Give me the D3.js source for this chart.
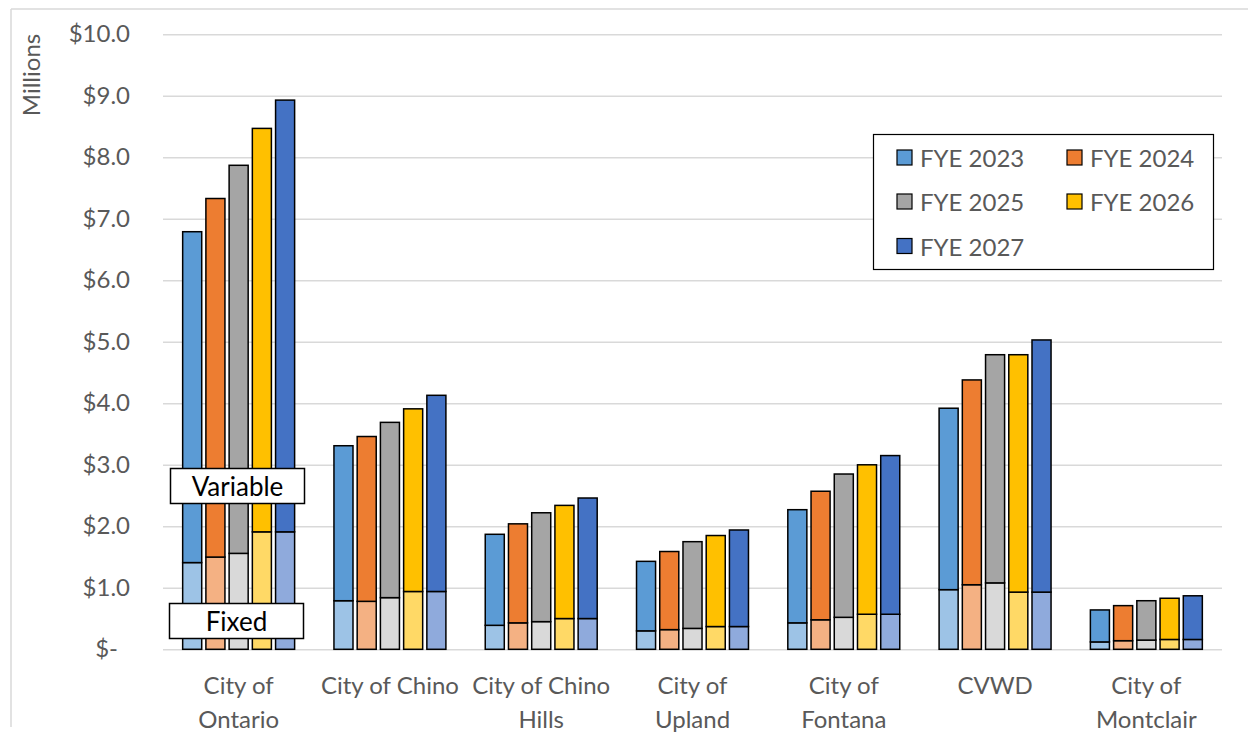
<!DOCTYPE html>
<html>
<head>
<meta charset="utf-8">
<script src="https://cdn.jsdelivr.net/npm/d3@7"></script>
<style>
  html, body { margin: 0; padding: 0; background: #fff; }
  svg { display: block; }
  text { font-family: Lato, "Open Sans", sans-serif; }
</style>
</head>
<body>
<svg id="chart" width="1248" height="736"></svg>
<script>
// ---- data ----
const categories = ["City of Ontario", "City of Chino", "City of Chino Hills", "City of Upland", "City of Fontana", "CVWD", "City of Montclair"];
const categoryLines = [["City of", "Ontario"], ["City of Chino"], ["City of Chino", "Hills"], ["City of", "Upland"], ["City of", "Fontana"], ["CVWD"], ["City of", "Montclair"]];
const years = ["FYE 2023", "FYE 2024", "FYE 2025", "FYE 2026", "FYE 2027"];

// Fixed portion ($ millions)
const fixed2023 = [1.41, 0.79, 0.39, 0.30, 0.43, 0.97, 0.12];
const fixed2024 = [1.50, 0.78, 0.43, 0.32, 0.48, 1.05, 0.14];
const fixed2025 = [1.56, 0.84, 0.45, 0.34, 0.52, 1.08, 0.15];
const fixed2026 = [1.91, 0.94, 0.50, 0.37, 0.57, 0.93, 0.16];
const fixed2027 = [1.91, 0.94, 0.50, 0.37, 0.57, 0.93, 0.16];

// Variable portion ($ millions)
const variable2023 = [5.38, 2.52, 1.48, 1.13, 1.84, 2.95, 0.52];
const variable2024 = [5.83, 2.68, 1.61, 1.27, 2.09, 3.33, 0.57];
const variable2025 = [6.31, 2.85, 1.77, 1.41, 2.33, 3.71, 0.64];
const variable2026 = [6.56, 2.97, 1.84, 1.48, 2.43, 3.86, 0.67];
const variable2027 = [7.02, 3.19, 1.96, 1.57, 2.58, 4.10, 0.71];

const yTicks = [0, 1, 2, 3, 4, 5, 6, 7, 8, 9, 10];
const yTickLabels = ["$-", "$1.0", "$2.0", "$3.0", "$4.0", "$5.0", "$6.0", "$7.0", "$8.0", "$9.0", "$10.0"];

const variableColors = ["#5B9BD5", "#ED7D31", "#A5A5A5", "#FFC000", "#4472C4"];
const fixedColors = ["#9DC3E6", "#F4B183", "#D9D9D9", "#FFD966", "#8FAADC"];

const fixedSeries = [fixed2023, fixed2024, fixed2025, fixed2026, fixed2027];
const variableSeries = [variable2023, variable2024, variable2025, variable2026, variable2027];

// ---- layout ----
const svg = d3.select("#chart");
const plotLeft = 163, plotRight = 1222, plotTop = 34.3, plotBottom = 649.3;
const textColor = "#595959";
const fontSize = 24;

// chart frame (partially visible)
svg.append("line").attr("x1", 11).attr("y1", 9).attr("x2", 1248).attr("y2", 9)
  .attr("stroke", "#d9d9d9").attr("stroke-width", 1.5);
svg.append("line").attr("x1", 11).attr("y1", 9).attr("x2", 11).attr("y2", 727)
  .attr("stroke", "#d9d9d9").attr("stroke-width", 1.5);

const y = d3.scaleLinear().domain([0, 10]).range([plotBottom, plotTop]);
const x0 = d3.scaleBand().domain(categories).range([plotLeft, plotRight])
  .paddingInner(0.26).paddingOuter(0.13);
const x1 = d3.scaleBand().domain(years).range([0, x0.bandwidth()])
  .paddingInner(0.18).paddingOuter(0);

// y axis with gridlines
const yAxis = d3.axisLeft(y)
  .tickValues(yTicks)
  .tickSize(-(plotRight - plotLeft))
  .tickPadding(33)
  .tickFormat((d, i) => yTickLabels[i]);
const gy = svg.append("g").attr("transform", `translate(${plotLeft},0)`).call(yAxis);
gy.select(".domain").remove();
gy.selectAll(".tick line").attr("stroke", "#d9d9d9").attr("stroke-width", 1.5);
gy.selectAll(".tick text").attr("fill", textColor).attr("font-size", fontSize)
  .style("font-family", "Lato, 'Open Sans', sans-serif");
gy.selectAll(".tick").filter(d => d === 0).select("text").attr("dx", -12);

// Millions label
svg.append("text")
  .attr("transform", "translate(40,75) rotate(-90)")
  .attr("text-anchor", "middle")
  .attr("fill", textColor)
  .attr("font-size", 24)
  .text("Millions");

// bars
const groups = svg.append("g").selectAll("g")
  .data(categories)
  .join("g")
  .attr("transform", d => `translate(${x0(d)},0)`);

years.forEach((yr, s) => {
  groups.append("rect")
    .attr("x", x1(yr))
    .attr("width", x1.bandwidth())
    .attr("y", (d, i) => y(fixedSeries[s][i]))
    .attr("height", (d, i) => y(0) - y(fixedSeries[s][i]))
    .attr("fill", fixedColors[s])
    .attr("stroke", "#000")
    .attr("stroke-width", 1.5);
  groups.append("rect")
    .attr("x", x1(yr))
    .attr("width", x1.bandwidth())
    .attr("y", (d, i) => y(fixedSeries[s][i] + variableSeries[s][i]))
    .attr("height", (d, i) => y(fixedSeries[s][i]) - y(fixedSeries[s][i] + variableSeries[s][i]))
    .attr("fill", variableColors[s])
    .attr("stroke", "#000")
    .attr("stroke-width", 1.5);
});

// category labels
categories.forEach((c, i) => {
  const t = svg.append("text")
    .attr("x", x0(c) + x0.bandwidth() / 2)
    .attr("y", 694)
    .attr("text-anchor", "middle")
    .attr("fill", textColor)
    .attr("font-size", fontSize);
  categoryLines[i].forEach((line, j) => {
    t.append("tspan").attr("x", x0(c) + x0.bandwidth() / 2).attr("dy", j === 0 ? 0 : 34).text(line);
  });
});

// Variable / Fixed annotation boxes
function annot(label, bx, by, bw, bh) {
  svg.append("rect").attr("x", bx).attr("y", by).attr("width", bw).attr("height", bh)
    .attr("fill", "#fff").attr("stroke", "#000").attr("stroke-width", 1.5);
  svg.append("text").attr("x", bx + bw / 2).attr("y", by + bh / 2)
    .attr("text-anchor", "middle").attr("dominant-baseline", "central")
    .attr("fill", "#000").attr("font-size", 26).text(label);
}
annot("Variable", 170.5, 468.5, 134, 35);
annot("Fixed", 169.5, 603.5, 134, 35);

// legend
const lg = svg.append("g");
lg.append("rect").attr("x", 873.5).attr("y", 134.5).attr("width", 340).attr("height", 135)
  .attr("fill", "#fff").attr("stroke", "#000").attr("stroke-width", 1.2);
const legendCols = [897, 1067];
const legendRows = [157.5, 201.5, 246];
years.forEach((yr, i) => {
  const cx = legendCols[i % 2], cy = legendRows[Math.floor(i / 2)];
  lg.append("rect").attr("x", cx).attr("y", cy - 7.5).attr("width", 15).attr("height", 15)
    .attr("fill", variableColors[i]).attr("stroke", "#000").attr("stroke-width", 1.2);
  lg.append("text").attr("x", cx + 23).attr("y", cy)
    .attr("dominant-baseline", "central")
    .attr("fill", textColor).attr("font-size", fontSize).text(yr);
});
</script>
</body>
</html>
